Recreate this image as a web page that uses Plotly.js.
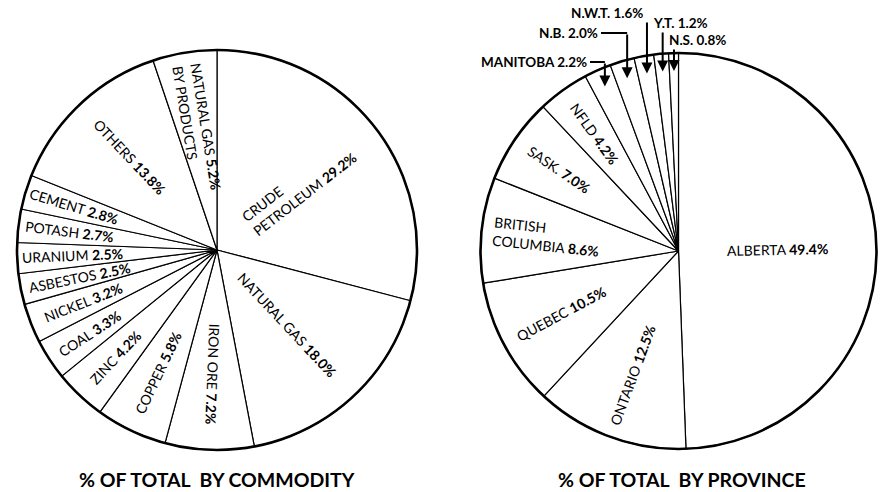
<!DOCTYPE html>
<html>
<head>
<meta charset="utf-8">
<script src="https://cdn.plot.ly/plotly-3.0.1.min.js"></script>
<style>
  html, body { margin: 0; padding: 0; background: #ffffff; }
  #chart { width: 880px; height: 492px; }
</style>
</head>
<body>
<div id="chart"></div>
<script>
// Values (percent of total)
const commodityNames = ["CRUDE<br>PETROLEUM", "NATURAL GAS", "IRON ORE", "COPPER", "ZINC", "COAL",
  "NICKEL", "ASBESTOS", "URANIUM", "POTASH", "CEMENT", "OTHERS", "NATURAL GAS {p}<br>BY PRODUCTS"];
const commodityShares = [29.2, 18.0, 7.2, 5.8, 4.2, 3.3, 3.2, 2.5, 2.5, 2.7, 2.8, 13.8, 5.2];

const provinceNames = ["ALBERTA", "ONTARIO", "QUEBEC", "BRITISH<br>COLUMBIA", "SASK.", "NFLD",
  "MANITOBA", "N.B.", "N.W.T.", "Y.T.", "N.S."];
const provinceShares = [49.4, 12.5, 10.5, 8.6, 7.0, 4.2, 2.2, 2.0, 1.6, 1.2, 0.8];

const chartTitles = ["% OF TOTAL&nbsp;&nbsp;BY COMMODITY", "% OF TOTAL&nbsp;&nbsp;BY PROVINCE"];

// Layout (pixels)
const W = 880, H = 492;
const FONT = "Lato, 'Noto Sans', sans-serif";
const leftPie = { cx: 217, cy: 250, r: 200 };
const rightPie = { cx: 678.5, cy: 251, r: 198 };
const commodityLabelRadius = [0.52, 0.51, 0.62, 0.68, 0.74, 0.76, 0.72, 0.70, 0.725, 0.745, 0.745, 0.64, 0.62];
const provinceLabelRadius = [0.5, 0.67, 0.67, 0.67, 0.73, 0.73, null, null, null, null, null];
// callouts for the thin province slices: text spot, anchor, where the arrow starts
const provinceCallouts = {
  6: { x: 589, y: 62, anchor: "right", elbow: true, y0: 62 },
  7: { x: 600, y: 33, anchor: "right", elbow: true, y0: 33 },
  8: { x: 607, y: 13, anchor: "center", elbow: false, y0: 21 },
  9: { x: 680, y: 23, anchor: "center", elbow: false, y0: 31 },
  10: { x: 697, y: 40, anchor: "center", elbow: false, y0: 48 },
};

const px = (x) => x / W;
const py = (y) => 1 - y / H;

function domainOf(p) {
  return {
    x: [px(p.cx - p.r), px(p.cx + p.r)],
    y: [py(p.cy + p.r), py(p.cy - p.r)],
  };
}

function labelText(name, value) {
  const pct = `<b>${value.toFixed(1)}%</b>`;
  return name.includes("{p}") ? name.replace("{p}", pct) : `${name} ${pct}`;
}

function midAngles(values) {
  const total = values.reduce((a, b) => a + b, 0);
  let acc = 0;
  return values.map((v) => {
    const mid = (acc + v / 2) / total;
    acc += v;
    return 2 * Math.PI * mid;
  });
}

function pointAt(pie, theta, frac) {
  return {
    x: pie.cx + frac * pie.r * Math.sin(theta),
    y: pie.cy - frac * pie.r * Math.cos(theta),
  };
}

function radialAngle(theta) {
  let a = Math.atan2(-Math.cos(theta), Math.sin(theta)) * 180 / Math.PI;
  while (a > 95) a -= 180;
  while (a <= -85) a += 180;
  return a;
}

function sliceLabels(pie, names, values, radii) {
  const out = [];
  midAngles(values).forEach((theta, i) => {
    if (radii[i] == null) return;
    const pt = pointAt(pie, theta, radii[i]);
    out.push({
      x: px(pt.x), y: py(pt.y), xref: "paper", yref: "paper",
      xanchor: "center", yanchor: "middle",
      text: labelText(names[i], values[i]),
      showarrow: false, align: "left",
      textangle: radialAngle(theta),
      font: { family: FONT, size: 14, color: "#000" },
    });
  });
  return out;
}

function pieTrace(values, names, pie) {
  return {
    type: "pie", values, labels: names.map((n, i) => n + i),
    sort: false, direction: "clockwise", rotation: 0,
    textinfo: "none", hoverinfo: "skip", showlegend: false,
    domain: domainOf(pie),
    marker: { colors: values.map(() => "#ffffff"), line: { color: "#000", width: 1.2 } },
  };
}

function rimTrace(pie) {
  return {
    type: "pie", values: [1], labels: ["rim"], textinfo: "none", hoverinfo: "skip",
    showlegend: false, domain: domainOf(pie),
    marker: { colors: ["rgba(0,0,0,0)"], line: { color: "#000", width: 2.6 } },
  };
}

const annotations = [
  ...sliceLabels(leftPie, commodityNames, commodityShares, commodityLabelRadius),
  ...sliceLabels(rightPie, provinceNames, provinceShares, provinceLabelRadius),
];
const shapes = [];

const provAngles = midAngles(provinceShares);
Object.keys(provinceCallouts).forEach((key) => {
  const i = Number(key);
  const c = provinceCallouts[i];
  const tip = pointAt(rightPie, provAngles[i], 0.91);
  annotations.push({
    x: px(c.x), y: py(c.y), xref: "paper", yref: "paper",
    xanchor: c.anchor, yanchor: "middle", showarrow: false,
    text: `<b>${provinceNames[i]} ${provinceShares[i].toFixed(1)}%</b>`,
    font: { family: FONT, size: 13.5, color: "#000" },
  });
  if (c.elbow) {
    shapes.push({
      type: "line", xref: "paper", yref: "paper",
      x0: px(c.x + 1), x1: px(tip.x), y0: py(c.y0), y1: py(c.y0),
      line: { color: "#000", width: 2 },
    });
  }
  annotations.push({
    x: px(tip.x), y: py(tip.y), xref: "paper", yref: "paper",
    ax: 0, ay: c.y0 - tip.y, text: "", showarrow: true,
    arrowhead: 2, arrowsize: 1.1, arrowwidth: 2, arrowcolor: "#000",
  });
});

chartTitles.forEach((t, i) => {
  const pie = i === 0 ? leftPie : rightPie;
  annotations.push({
    x: px(pie.cx + (i === 0 ? 0 : 3)), y: py(479), xref: "paper", yref: "paper",
    xanchor: "center", yanchor: "middle", showarrow: false,
    text: `<b>${t}</b>`, font: { family: FONT, size: 19.5, color: "#000" },
  });
});

Plotly.newPlot("chart", [
  pieTrace(commodityShares, commodityNames, leftPie),
  rimTrace(leftPie),
  pieTrace(provinceShares, provinceNames, rightPie),
  rimTrace(rightPie),
], {
  width: W, height: H,
  margin: { l: 0, r: 0, t: 0, b: 0 },
  paper_bgcolor: "#ffffff",
  showlegend: false,
  annotations,
  shapes,
}, { staticPlot: true, displayModeBar: false });
</script>
</body>
</html>
